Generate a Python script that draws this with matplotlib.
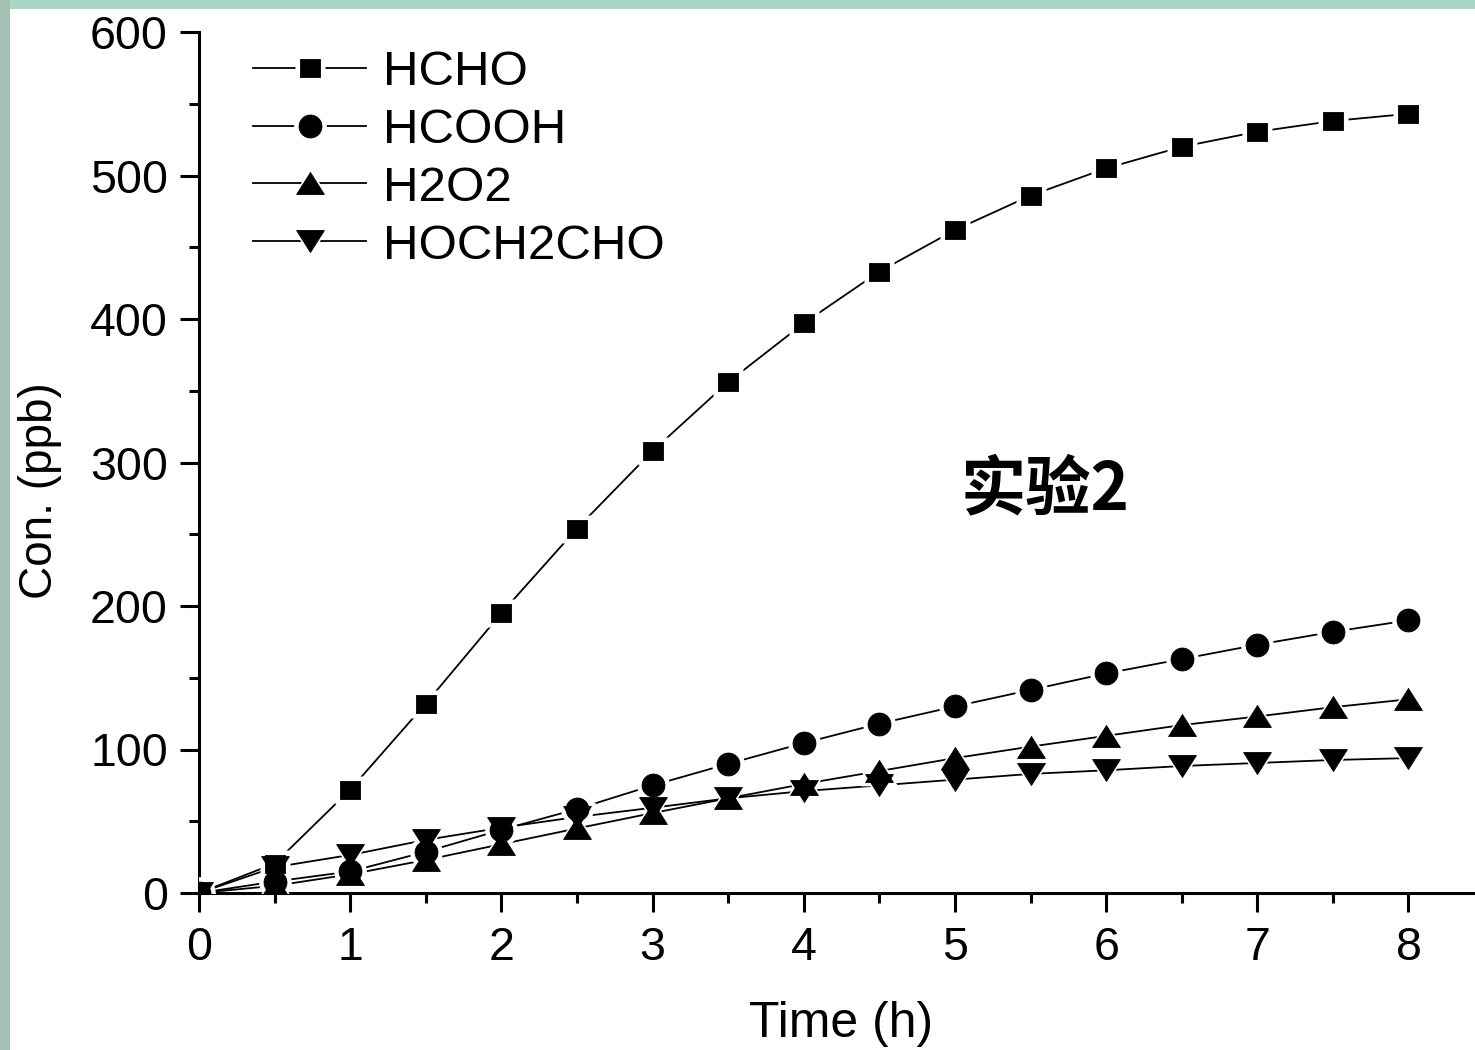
import matplotlib
matplotlib.use('Agg')
import matplotlib.pyplot as plt
from matplotlib.legend_handler import HandlerTuple
from matplotlib.patches import Rectangle
from matplotlib.ticker import MultipleLocator

# ---- data ----
time_h = [0, 0.5, 1, 1.5, 2, 2.5, 3, 3.5, 4, 4.5, 5, 5.5, 6, 6.5, 7, 7.5, 8]
hcho = [0, 20.5, 72, 132, 195, 254, 308, 356, 397, 433, 462, 486, 505, 520, 530.5, 538, 543]
hcooh = [0, 8, 15, 28.7, 44, 58.5, 75, 90, 104.5, 118, 130, 141.5, 153, 163, 173, 182, 190]
h2o2 = [0, 5, 13, 23, 34, 45, 55.7, 66, 76, 85, 94, 102, 109.5, 117, 123, 129.5, 135]
hoch2cho = [0, 18, 26.5, 37, 45.5, 53, 59.4, 66, 71, 75, 79, 83, 85.5, 88.5, 90.6, 92.7, 94]
labels = ['HCHO', 'HCOOH', 'H2O2', 'HOCH2CHO']
x_ticks = [0, 1, 2, 3, 4, 5, 6, 7, 8]
y_ticks = [0, 100, 200, 300, 400, 500, 600]
annotation = '实验2'

plt.rcParams['font.family'] = ['Liberation Sans', 'DejaVu Sans']

W, H = 1475, 1050
fig = plt.figure(figsize=(W / 100, H / 100), dpi=100)
fig.patch.set_facecolor('white')
# greenish slide-background strips at the top and left edges
fig.patches.append(Rectangle((0, 1 - 9 / H), 1, 9 / H, transform=fig.transFigure,
                             facecolor='#a9d6c5', edgecolor='none', zorder=0))
fig.patches.append(Rectangle((0, 0), 10 / W, 1, transform=fig.transFigure,
                             facecolor='#a5bfb2', edgecolor='none', zorder=0))

ax = fig.add_axes([199 / W, 157 / H, 1276 / W, 861 / H])
ax.set_xlim(0, 8.44)
ax.set_ylim(0, 600)

sq = [(-1, -0.9), (1, -0.9), (1, 0.9), (-1, 0.9), (-1, -0.9)]
up = [(0, 0.79), (-1, -0.79), (1, -0.79), (0, 0.79)]
dn = [(0, -0.79), (-1, 0.79), (1, 0.79), (0, -0.79)]
markers = [sq, 'o', up, dn]
msizes = [15, 16.5, 20, 20]
series = [hcho, hcooh, h2o2, hoch2cho]

handles = []
for ys, mk, ms, lab in zip(series, markers, msizes, labels):
    ln, = ax.plot(time_h, ys, color='black', lw=1.3, zorder=2)
    halo, = ax.plot(time_h, ys, ls='none', marker=mk, ms=ms + 7, mfc='white',
                    mec='none', zorder=3)
    mkr, = ax.plot(time_h, ys, ls='none', marker=mk, ms=ms, mfc='black',
                   mec='black', mew=0.6, zorder=4)
    handles.append((ln, halo, mkr))

for s in ['top', 'right']:
    ax.spines[s].set_visible(False)
for s in ['left', 'bottom']:
    ax.spines[s].set_linewidth(2.2)

ax.set_xticks(x_ticks)
ax.set_yticks(y_ticks)
ax.xaxis.set_minor_locator(MultipleLocator(0.5))
ax.yaxis.set_minor_locator(MultipleLocator(50))
ax.tick_params(which='major', direction='out', length=13.5, width=2.2,
               labelsize=33.5)
ax.tick_params(which='minor', direction='out', length=7.5, width=2.2)
ax.tick_params(axis='x', which='major', pad=10)
ax.tick_params(axis='y', which='major', pad=9)

ax.set_xlabel('Time (h)', fontsize=36)
ax.set_ylabel('Con. (ppb)', fontsize=33)
ax.xaxis.set_label_coords(0.503, -0.125)
ax.yaxis.set_label_coords(-0.107, 0.467)

ax.text(0.663, 0.468, annotation, transform=ax.transAxes, ha='center',
        va='center', fontsize=47, fontweight='bold',
        family=['Noto Sans CJK SC', 'DejaVu Sans'])

ax.legend(handles, labels, handler_map={tuple: HandlerTuple(ndivide=1)},
          loc='upper left', bbox_to_anchor=(0.0423, 0.979), frameon=False,
          fontsize=35.5, handlelength=2.3, handletextpad=0.33, labelspacing=0.26,
          borderpad=0, borderaxespad=0, numpoints=1)

fig.savefig('out.png', dpi=100)
